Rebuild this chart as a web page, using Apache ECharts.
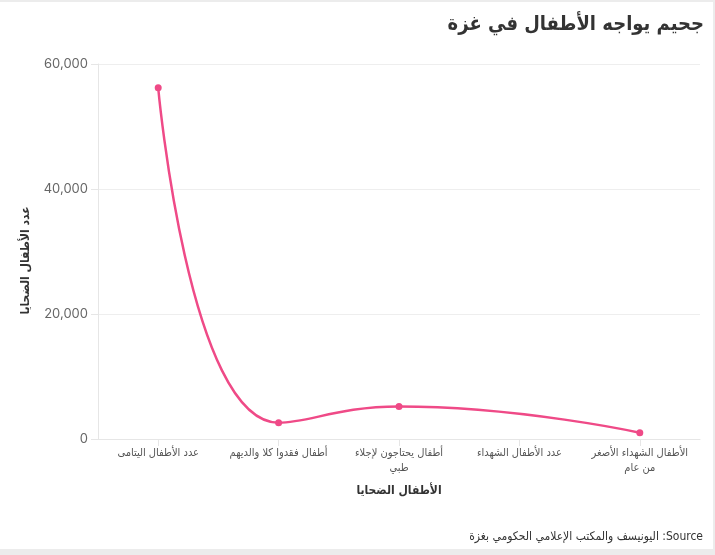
<!DOCTYPE html>
<html>
<head>
<meta charset="utf-8">
<script src="https://cdn.jsdelivr.net/npm/echarts@6/dist/echarts.min.js"></script>
<style>
  html, body { margin: 0; padding: 0; background: #ececec; width: 715px; height: 555px; overflow: hidden; }
  #chart { position: absolute; left: 0; top: 2px; width: 713px; height: 547px; background: #ffffff; }
</style>
</head>
<body>
<div id="chart"></div>
<script>
const titleText = 'جحيم يواجه الأطفال في غزة';
const sourceText = 'Source: اليونيسف والمكتب الإعلامي الحكومي بغزة';
const xAxisName = 'الأطفال الضحايا';
const yAxisName = 'عدد الأطفال الضحايا';
// category tick labels (line breaks as shown in the chart)
const categories = [
  'عدد الأطفال اليتامى',
  'أطفال فقدوا كلا والديهم',
  'أطفال يحتاجون لإجلاء\nطبي',
  'عدد الأطفال الشهداء',
  'الأطفال الشهداء الأصغر\nمن عام'
];
const values = [56200, 2600, 5200, null, 1000];
const yMin = 0, yMax = 60000, yInterval = 20000;

const arFont = 'DejaVu Sans Condensed, DejaVu Sans, sans-serif';
const chart = echarts.init(document.getElementById('chart'), null, { renderer: 'canvas' });
chart.setOption({
  animation: false,
  backgroundColor: '#ffffff',
  title: [
    {
      text: titleText,
      right: 4,
      top: 8,
      textStyle: { fontFamily: arFont, fontSize: 20, fontWeight: 'bold', color: '#333333' }
    },
    {
      text: '\u202B' + sourceText + '\u202C',
      right: 5,
      top: 524,
      textStyle: { fontFamily: arFont, fontSize: 12, fontWeight: 'normal', color: '#333333' }
    }
  ],
  grid: { left: 98, right: 13, top: 62, bottom: 110, containLabel: false },
  xAxis: {
    type: 'category',
    data: categories,
    boundaryGap: true,
    name: xAxisName,
    nameLocation: 'middle',
    nameGap: 46,
    nameTextStyle: { fontFamily: arFont, fontSize: 12, fontWeight: 'bold', color: '#333333' },
    axisLine: { show: true, lineStyle: { color: '#e6e6e6', width: 1 } },
    axisTick: { show: true, alignWithLabel: true, length: 7, lineStyle: { color: '#e6e6e6' } },
    axisLabel: {
      interval: 0,
      margin: 7,
      fontFamily: arFont,
      fontSize: 11,
      color: '#555555',
      lineHeight: 15
    },
    splitLine: { show: false }
  },
  yAxis: {
    type: 'value',
    min: yMin,
    max: yMax,
    interval: yInterval,
    name: yAxisName,
    nameLocation: 'middle',
    nameGap: 66,
    nameRotate: 90,
    nameTextStyle: { fontFamily: arFont, fontSize: 12, fontWeight: 'bold', color: '#333333', padding: [0, 18, 0, 0] },
    axisLine: { show: true, lineStyle: { color: '#e6e6e6', width: 1 } },
    axisTick: { show: true, length: 7, lineStyle: { color: '#e6e6e6' } },
    axisLabel: {
      margin: 10,
      fontFamily: 'Inter, Open Sans, sans-serif',
      fontSize: 13,
      color: '#666666',
      formatter: v => v.toLocaleString('en-US')
    },
    splitLine: { show: true, lineStyle: { color: '#eeeeee', width: 1 } }
  },
  series: [{
    type: 'line',
    data: values,
    smooth: 0.5,
    connectNulls: true,
    symbol: 'circle',
    symbolSize: 7,
    lineStyle: { color: '#ef4a87', width: 2.5 },
    itemStyle: { color: '#ef4a87' }
  }]
});
</script>
</body>
</html>
